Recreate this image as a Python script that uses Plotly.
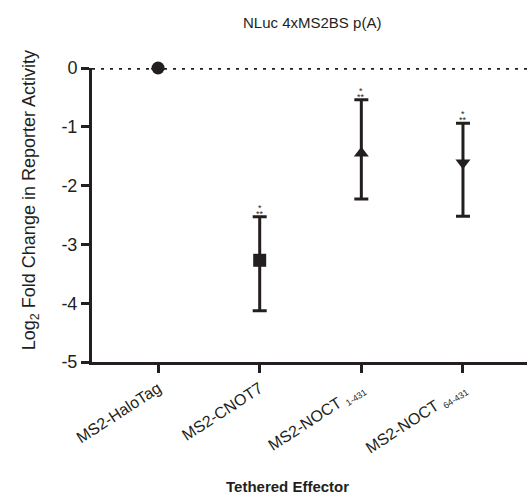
import plotly.graph_objects as go

# ---- data ----
categories = ["MS2-HaloTag", "MS2-CNOT7",
              "MS2-NOCT <sub><span style='font-size:9px'>1-431</span></sub>",
              "MS2-NOCT <sub><span style='font-size:9px'>64-431</span></sub>"]
means = [0.0, -3.27, -1.45, -1.61]
err_plus = [None, 0.74, 0.91, 0.67]
err_minus = [None, 0.86, 0.78, 0.91]
symbols = ["circle", "square", "triangle-up", "triangle-down"]
sig_top = ["", "*", "*", "*"]
sig_bottom = ["", "**", "**", "**"]
y_ticks = [0, -1, -2, -3, -4, -5]

INK = "#231f20"
FONT = "Liberation Sans, Arial, Helvetica, sans-serif"

xpos = list(range(len(categories)))

fig = go.Figure()
fig.add_trace(go.Scatter(
    x=xpos, y=means, mode="markers",
    marker=dict(symbol=symbols, size=13, color=INK, line=dict(width=0)),
    error_y=dict(type="data", symmetric=False, array=err_plus, arrayminus=err_minus,
                 thickness=3, width=7, color=INK),
    cliponaxis=False, showlegend=False, hoverinfo="skip",
))

# dotted reference line at 0
fig.add_shape(type="line", xref="paper", x0=0, x1=1, yref="y", y0=0, y1=0,
              line=dict(color=INK, width=3.5, dash="3px,6px"), layer="below")

# significance asterisks
for i, (m, ep) in enumerate(zip(means, err_plus)):
    if ep is None:
        continue
    top = m + ep
    fig.add_annotation(x=xpos[i], y=top, text=sig_bottom[i], showarrow=False,
                       yanchor="middle", yshift=3, font=dict(size=9, color=INK, family=FONT))
    fig.add_annotation(x=xpos[i], y=top, text=sig_top[i], showarrow=False,
                       yanchor="middle", yshift=9, font=dict(size=9, color=INK, family=FONT))

# titles
fig.add_annotation(xref="paper", yref="paper", x=0.506, y=1.156, text="NLuc 4xMS2BS p(A)",
                   showarrow=False, xanchor="center", yanchor="middle",
                   font=dict(size=15, color=INK, family=FONT))
fig.add_annotation(xref="paper", yref="paper", x=-0.142, y=0.551,
                   text="Log<sub>2</sub> Fold Change in Reporter Activity", textangle=-90,
                   showarrow=False, xanchor="center", yanchor="middle",
                   font=dict(size=18, color=INK, family=FONT))
fig.add_annotation(xref="paper", yref="paper", x=0.45, y=-0.425, text="<b>Tethered Effector</b>",
                   showarrow=False, xanchor="center", yanchor="middle",
                   font=dict(size=15, color=INK, family=FONT))

fig.update_layout(
    width=527, height=497,
    margin=dict(l=92, r=0, t=68, b=135),
    paper_bgcolor="white", plot_bgcolor="white",
    font=dict(family=FONT, color=INK),
    hovermode=False,
    xaxis=dict(range=[-0.65, 3.63], tickvals=xpos, ticktext=categories, tickangle=-33,
               showline=True, linewidth=3, linecolor=INK, ticks="outside", ticklen=8,
               tickwidth=3, tickcolor=INK, showgrid=False, zeroline=False,
               tickfont=dict(size=16, color=INK, family=FONT)),
    yaxis=dict(range=[-5, 0], tickvals=y_ticks, ticktext=[str(v) for v in y_ticks],
               showline=True, linewidth=3, linecolor=INK, ticks="outside", ticklen=8,
               tickwidth=3, tickcolor=INK, showgrid=False, zeroline=False,
               tickfont=dict(size=18, color=INK, family=FONT)),
)

fig.write_html("out.html", config={"displayModeBar": False},
               post_script="document.body.style.margin='0px';")
